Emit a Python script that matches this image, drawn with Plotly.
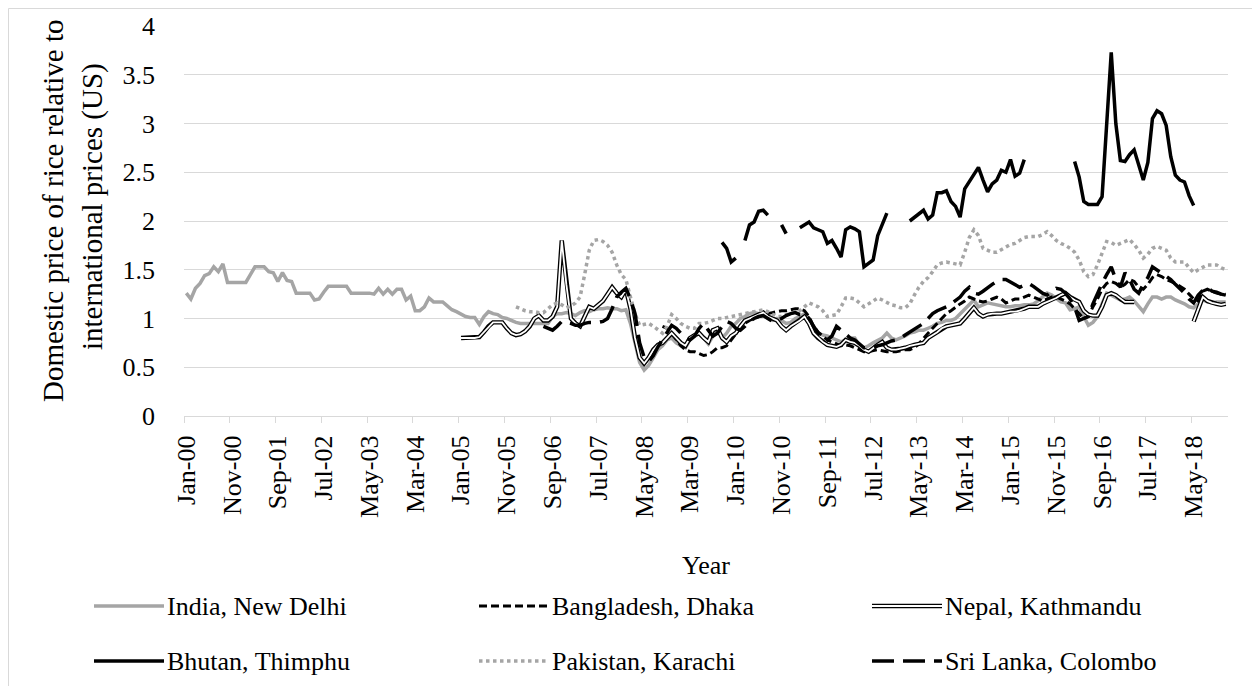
import plotly.graph_objects as go

# ---------------- data (monthly, Jan-00 .. Dec-18 -> index 0..227) ----------------
n_months = 228
tick_labels = ["Jan-00", "Nov-00", "Sep-01", "Jul-02", "May-03", "Mar-04", "Jan-05",
               "Nov-05", "Sep-06", "Jul-07", "May-08", "Mar-09", "Jan-10", "Nov-10",
               "Sep-11", "Jul-12", "May-13", "Mar-14", "Jan-15", "Nov-15", "Sep-16",
               "Jul-17", "May-18"]

india_start = 0
india = [1.26, 1.20, 1.31, 1.36, 1.44, 1.46, 1.53, 1.48, 1.56, 1.37,
         1.37, 1.37, 1.37, 1.37, 1.45, 1.53, 1.53, 1.53, 1.48, 1.47,
         1.38, 1.47, 1.39, 1.38, 1.26, 1.26, 1.26, 1.26, 1.19, 1.20,
         1.27, 1.33, 1.33, 1.33, 1.33, 1.33, 1.26, 1.26, 1.26, 1.26,
         1.26, 1.25, 1.31, 1.25, 1.30, 1.25, 1.30, 1.30, 1.19, 1.23,
         1.08, 1.08, 1.12, 1.21, 1.17, 1.17, 1.17, 1.13, 1.09, 1.07,
         1.04, 1.02, 1.01, 1.01, 0.94, 1.02, 1.07, 1.05, 1.04, 1.01,
         1.00, 0.98, 0.96, 0.95, 0.95, 0.95, 0.95, 0.95, 0.95, 0.95,
         1.02, 1.05, 1.05, 1.06, 1.05, 1.03, 1.06, 1.08, 1.07, 1.09,
         1.10, 1.10, 1.11, 1.10, 1.10, 1.08, 1.09, 0.95, 0.75, 0.55,
         0.47, 0.52, 0.60, 0.68, 0.72, 0.78, 0.80, 0.75, 0.72, 0.70,
         0.78, 0.82, 0.85, 0.80, 0.74, 0.82, 0.88, 0.80, 0.85, 0.92,
         0.95, 1.00, 1.02, 1.05, 1.06, 1.05, 1.03, 1.00, 0.98, 1.00,
         0.98, 0.95, 0.96, 1.00, 1.02, 1.05, 1.00, 0.90, 0.85, 0.83,
         0.82, 0.80, 0.78, 0.76, 0.78, 0.80, 0.80, 0.72, 0.70, 0.72,
         0.75, 0.78, 0.80, 0.85, 0.80, 0.78, 0.80, 0.82, 0.85, 0.86,
         0.88, 0.88, 0.90, 0.92, 0.95, 0.96, 0.98, 0.98, 1.00, 1.05,
         1.10, 1.15, 1.19, 1.12, 1.14, 1.16, 1.15, 1.14, 1.13, 1.12,
         1.12, 1.13, 1.13, 1.14, 1.14, 1.15, 1.18, 1.22, 1.26, 1.24,
         1.20, 1.17, 1.16, 1.09, 1.10, 1.12, 1.02, 0.93, 0.96, 1.02,
         1.15, 1.26, 1.24, 1.21, 1.19, 1.20, 1.22, 1.18, 1.12, 1.07,
         1.15, 1.22, 1.22, 1.20, 1.22, 1.22, 1.19, 1.17, 1.15, 1.12,
         1.11, 1.15, 1.19, 1.17, 1.16, 1.17, 1.17, 1.17]

bangladesh_start = 104
bangladesh = [0.92, 0.90, 0.85, 0.78, 0.72, 0.68,
              0.66, 0.66, 0.64, 0.62, 0.63, 0.66, 0.70, 0.70, 0.72, 0.78,
              0.85, 0.90, 0.95, 0.98, 1.00, 1.02, 1.03, 1.05, 1.06, 1.07,
              1.08, 1.08, 1.09, 1.10, 1.10, 1.08, 1.02, 0.92, 0.86, 0.82,
              0.78, 0.76, 0.74, 0.72, 0.73, 0.72, 0.70, 0.68, 0.66, 0.66,
              0.67, 0.68, 0.67, 0.66, 0.66, 0.66, 0.67, 0.68, 0.68, 0.70,
              0.74, 0.80, 0.85, 0.90, 0.95, 1.00, 1.05, 1.08, 1.12, 1.15,
              1.18, 1.22, 1.20, 1.18, 1.17, 1.18, 1.20, 1.22, 1.20, 1.16,
              1.18, 1.20, 1.20, 1.22, 1.24, 1.22, 1.20, 1.18, 1.20, 1.22,
              1.22, 1.20, 1.18, 1.15, 1.10, 1.05, 1.00, 1.02, 1.12, 1.20,
              1.30, 1.36, 1.38, 1.36, 1.32, 1.35, 1.40, 1.38, 1.32, 1.30,
              1.35, 1.42, 1.45, 1.43, 1.40, 1.38, 1.36, 1.33, 1.30, 1.25,
              1.20, 1.18, 1.28, 1.30, 1.28, 1.26, 1.25, 1.25]

nepal_start = 60
nepal = [0.80, 0.80, 0.80, 0.80, 0.81, 0.86, 0.92, 0.96, 0.96, 0.96,
         0.90, 0.85, 0.83, 0.84, 0.87, 0.92, 1.00, 1.03, 0.98, 0.98,
         1.02, 1.12, 1.80, 1.35, 1.00, 0.95, 0.92, 1.02, 1.12, 1.10,
         1.14, 1.18, 1.25, 1.32, 1.26, 1.22, 1.30, 1.10, 0.80, 0.60,
         0.54, 0.60, 0.68, 0.73, 0.75, 0.80, 0.85, 0.80, 0.75, 0.72,
         0.80, 0.83, 0.85, 0.80, 0.76, 0.88, 0.90, 0.80, 0.76, 0.82,
         0.85, 0.92, 0.98, 1.00, 1.02, 1.04, 1.06, 1.02, 1.00, 0.98,
         0.92, 0.88, 0.92, 0.95, 0.98, 1.02, 0.95, 0.85, 0.80, 0.76,
         0.73, 0.72, 0.71, 0.73, 0.78, 0.76, 0.75, 0.72, 0.68, 0.66,
         0.70, 0.73, 0.76, 0.70, 0.68, 0.68, 0.69, 0.70, 0.72, 0.73,
         0.74, 0.75, 0.80, 0.83, 0.86, 0.90, 0.92, 0.93, 0.94, 0.95,
         1.00, 1.05, 1.11, 1.05, 1.02, 1.04, 1.05, 1.05, 1.05, 1.06,
         1.07, 1.07, 1.08, 1.10, 1.12, 1.12, 1.12, 1.15, 1.17, 1.19,
         1.21, 1.24, 1.26, 1.22, 1.19, 1.17, 1.08, 1.04, 1.03, 1.03,
         1.12, 1.24, 1.26, 1.24, 1.20, 1.17, 1.17, 1.17, None, None,
         None, None, None, None, None, None, None, None, None, None,
         0.97, 1.10, 1.22, 1.18, 1.16, 1.15, 1.14, 1.15]

bhutan_start = 117
bhutan = [1.78, 1.72, 1.58,
          1.62, None, 1.80, 1.96, 1.99, 2.10, 2.11, 2.06, None, None,
          1.96, 1.87, None, None, 1.93, 1.96, 1.99, 1.93, 1.91, 1.89,
          1.77, 1.80, 1.72, 1.63, 1.91, 1.94, 1.92, 1.89, 1.53, 1.57,
          1.60, 1.85, 1.96, 2.08, None, None, None, None, 2.00, 2.04,
          2.07, 2.11, 2.02, 2.06, 2.29, 2.29, 2.31, 2.20, 2.15, 2.04,
          2.33, 2.40, 2.47, 2.55, 2.42, 2.30, 2.38, 2.42, 2.52, 2.50,
          2.63, 2.46, 2.49, 2.63, None, None, None, None, None, None,
          None, None, None, None, 2.61, 2.45, 2.20, 2.17, 2.17, 2.17,
          2.25, 2.95, 3.73, 3.00, 2.62, 2.61, 2.68, 2.73, 2.58, 2.42,
          2.60, 3.05, 3.13, 3.10, 2.98, 2.66, 2.47, 2.42, 2.40, 2.26,
          2.16]

pakistan_start = 72
pakistan = [1.12, 1.10, 1.08, 1.07, 1.07, 1.06, 1.06, 1.10,
            1.14, 1.16, 1.14, 1.11, 1.13, 1.16, 1.22, 1.45, 1.70, 1.80,
            1.81, 1.79, 1.75, 1.68, 1.55, 1.45, 1.40, 1.22, 1.05, 0.93,
            0.94, 0.95, 0.92, 0.88, 0.85, 0.92, 1.04, 1.00, 0.95, 0.92,
            0.90, 0.90, 0.95, 0.95, 0.96, 0.98, 1.00, 1.00, 1.01, 1.02,
            1.03, 1.04, 1.05, 1.06, 1.07, 1.08, 1.09, 1.07, 1.04, 1.02,
            1.02, 1.04, 1.05, 1.07, 1.08, 1.12, 1.16, 1.14, 1.12, 1.08,
            1.02, 1.03, 1.04, 1.12, 1.21, 1.21, 1.20, 1.16, 1.12, 1.15,
            1.18, 1.21, 1.19, 1.16, 1.14, 1.13, 1.11, 1.11, 1.15, 1.24,
            1.32, 1.38, 1.42, 1.48, 1.55, 1.57, 1.58, 1.57, 1.56, 1.55,
            1.68, 1.83, 1.91, 1.85, 1.72, 1.70, 1.68, 1.68, 1.71, 1.74,
            1.76, 1.77, 1.80, 1.83, 1.84, 1.84, 1.84, 1.86, 1.89, 1.85,
            1.80, 1.77, 1.75, 1.72, 1.68, 1.60, 1.48, 1.43, 1.45, 1.55,
            1.68, 1.79, 1.78, 1.75, 1.77, 1.79, 1.81, 1.76, 1.70, 1.62,
            1.66, 1.72, 1.74, 1.72, 1.70, 1.62, 1.58, 1.58, 1.58, 1.52,
            1.47, 1.50, 1.53, 1.55, 1.55, 1.55, 1.52, 1.50]

srilanka_start = 78
srilanka = [0.92, 0.90,
            0.88, 0.92, 0.97, 0.96, 0.95, 0.93, 0.93, 0.95, 0.96, 0.96,
            0.96, 0.97, 1.00, 1.10, 1.22, 1.27, 1.31, 1.20, 1.05, 0.75,
            0.60, 0.56, 0.62, 0.71, 0.78, 0.85, 0.93, 0.90, 0.85, 0.80,
            0.78, 0.82, 0.90, 0.95, 0.88, 0.82, 0.85, 0.92, 0.97, 0.95,
            0.90, 0.88, 0.92, 0.97, 1.00, 1.02, 1.03, 1.00, 0.97, 0.98,
            1.00, 1.03, 1.05, 1.06, 1.04, 1.05, 1.00, 0.92, 0.85, 0.80,
            0.78, 0.82, 0.92, 0.88, 0.84, 0.80, 0.78, 0.74, 0.70, 0.70,
            0.71, 0.72, 0.73, 0.75, 0.77, 0.78, 0.80, 0.83, 0.86, 0.90,
            0.92, 0.95, 1.00, 1.05, 1.08, 1.10, 1.12, 1.15, 1.18, 1.22,
            1.28, 1.32, 1.26, 1.25, 1.28, 1.32, 1.35, 1.38, 1.40, 1.40,
            1.37, 1.34, 1.32, 1.34, 1.36, 1.33, 1.29, 1.26, 1.24, 1.27,
            1.31, 1.30, 1.26, 1.20, 1.12, 0.98, 1.00, 1.02, 1.15, 1.26,
            1.36, 1.45, 1.53, 1.40, 1.32, 1.47, 1.40, 1.30, 1.26, 1.35,
            1.42, 1.53, 1.50, 1.47, 1.43, 1.40, 1.35, 1.31, 1.26, 1.20,
            1.16, 1.24, 1.29, 1.32, 1.28, 1.27, 1.25, 1.24]

y_title_lines = ["Domestic price of rice relative to", "international prices (US)"]

# ---------------- styling ----------------
FONT = "Liberation Serif, Times New Roman, serif"
GRAY = "#A5A5A5"
GRID = "#D9D9D9"
# the page body has an 8px margin: the figure is sized / placed to compensate
W, H, OFF = 1252, 678, 8
PL, PT, PR, PB = 184, 26, 1228, 416          # plot area in page pixels
LEG_TEXT_X = [168, 553, 946]                  # legend columns (text left edge, page px)
LEG_ROW_Y = [606, 661]                        # legend rows (page px)
LEG_SAMPLE = 70                               # legend sample length (px)


def xs(start, values):
    return list(range(start, start + len(values)))


def px_x(px):   # page x -> paper x
    return (px - PL) / (PR - PL)


def px_y(py):   # page y -> paper y
    return (PB - py) / (PB - PT)


# (name, x-start, values, list of line styles drawn on top of each other)
series = [
    ("India, New Delhi", india_start, india, [dict(color=GRAY, width=3.5)]),
    ("Bangladesh, Dhaka", bangladesh_start, bangladesh,
     [dict(color="black", width=3, dash="8px,4px")]),
    ("Nepal, Kathmandu", nepal_start, nepal,
     [dict(color="black", width=4.4), dict(color="white", width=1.8)]),
    ("Bhutan, Thimphu", bhutan_start, bhutan, [dict(color="black", width=3.5)]),
    ("Pakistan, Karachi", pakistan_start, pakistan,
     [dict(color=GRAY, width=3.5, dash="3.5px,3.5px")]),
    ("Sri Lanka, Colombo", srilanka_start, srilanka,
     [dict(color="black", width=3.5, dash="22px,9px")]),
]

fig = go.Figure()
shapes = []
annotations = []

for k, (name, start, vals, styles) in enumerate(series):
    for j, st in enumerate(styles):
        fig.add_trace(go.Scatter(x=xs(start, vals), y=vals, mode="lines", name=name,
                                 showlegend=False, line=st,
                                 hoverinfo="skip" if j else None))
    # legend entry (3 columns x 2 rows)
    tx = LEG_TEXT_X[k % 3]
    ty = LEG_ROW_Y[k // 3]
    for st in styles:
        shapes.append(dict(type="line", xref="paper", yref="paper",
                           x0=px_x(tx - 4 - LEG_SAMPLE), x1=px_x(tx - 4),
                           y0=px_y(ty), y1=px_y(ty), line=st, layer="above"))
    annotations.append(dict(text=name, xref="paper", yref="paper",
                            x=px_x(tx - 3), y=px_y(ty), xanchor="left", yanchor="middle",
                            showarrow=False,
                            font=dict(family=FONT, size=26, color="black")))

annotations += [
    dict(text=y_title_lines[0], xref="paper", yref="paper", x=px_x(53), y=px_y(211),
         xanchor="center", yanchor="middle", textangle=-90, showarrow=False,
         font=dict(family=FONT, size=29, color="black")),
    dict(text=y_title_lines[1], xref="paper", yref="paper", x=px_x(92), y=px_y(207),
         xanchor="center", yanchor="middle", textangle=-90, showarrow=False,
         font=dict(family=FONT, size=29, color="black")),
]

shapes.append(dict(type="rect", xref="paper", yref="paper",
                   x0=px_x(OFF + 0.5), x1=px_x(1300),
                   y0=px_y(720), y1=px_y(OFF + 0.5),
                   line=dict(color=GRID, width=1), layer="below"))

tickvals = list(range(0, n_months, 10))
minor_vals = [v - 0.5 for v in tickvals]

fig.update_layout(
    width=W, height=H, autosize=False,
    margin=dict(l=PL - OFF, r=OFF + W - PR, t=PT - OFF, b=OFF + H - PB,
                autoexpand=False),
    paper_bgcolor="white", plot_bgcolor="white",
    font=dict(family=FONT, size=26, color="black"),
    showlegend=False,
    xaxis=dict(range=[-0.5, n_months - 0.5], tickmode="array", tickvals=tickvals,
               ticktext=tick_labels, tickangle=-90, ticks="", showgrid=False,
               showline=True, linecolor=GRID, linewidth=1.3, zeroline=False,
               ticklabelstandoff=8, automargin=False,
               minor=dict(tickmode="array", tickvals=minor_vals, ticks="outside",
                          ticklen=6, tickcolor=GRID, tickwidth=1.3, showgrid=False),
               title=dict(text="Year", standoff=38,
                          font=dict(family=FONT, size=26, color="black"))),
    yaxis=dict(range=[0, 4], dtick=0.5, tick0=0, showgrid=True, gridcolor=GRID,
               gridwidth=1.3, zeroline=False, showline=False, ticks="",
               ticklabelstandoff=28, automargin=False),
    annotations=annotations,
    shapes=shapes,
)

fig.write_html("out.html")
